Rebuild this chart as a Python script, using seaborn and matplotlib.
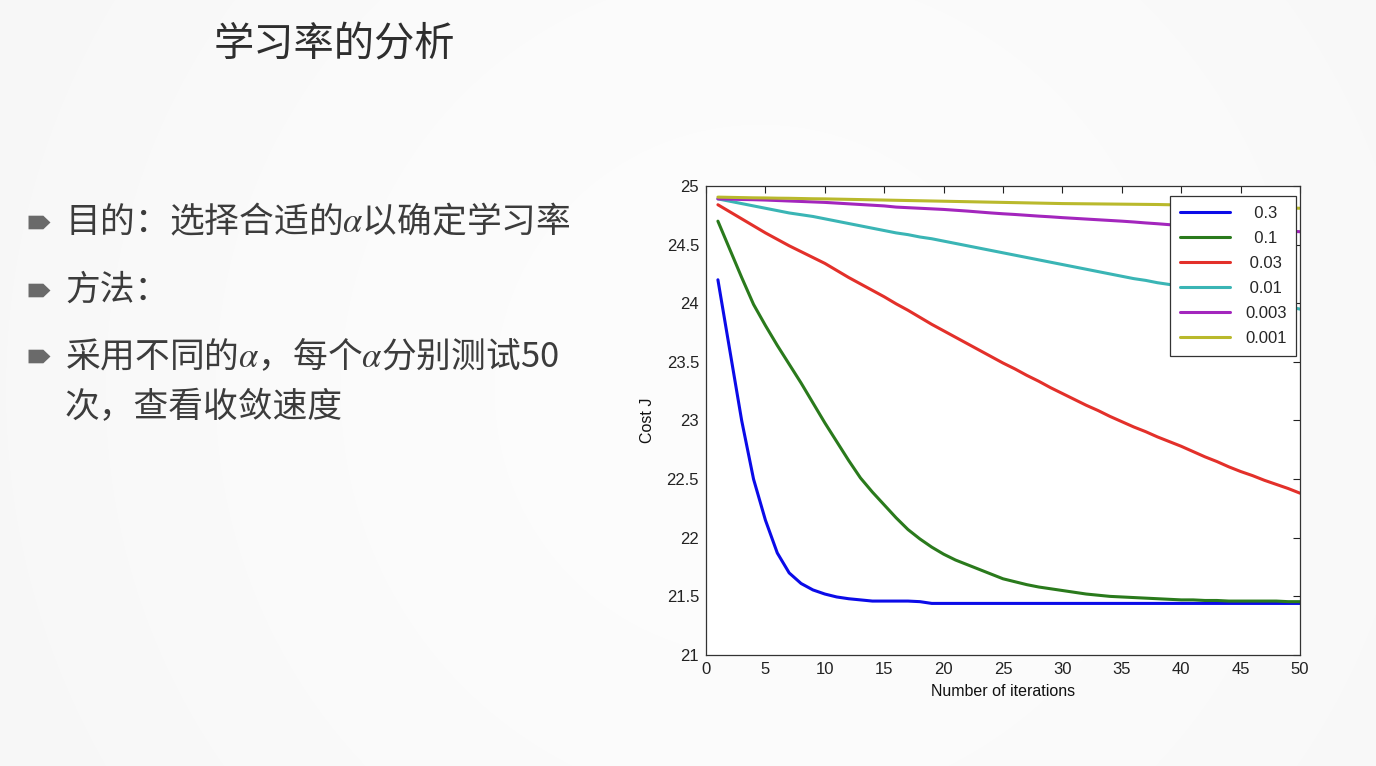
import numpy as np
import pandas as pd
import matplotlib
matplotlib.use("Agg")
import matplotlib.pyplot as plt
from matplotlib.path import Path
from matplotlib.ticker import FormatStrFormatter, MultipleLocator
import seaborn as sns

# ---- data ----
iterations = list(range(1, 51))
alphas = ["0.3", "0.1", "0.03", "0.01", "0.003", "0.001"]

cost_a03 = [24.20, 23.60, 23.00, 22.50, 22.15, 21.87, 21.70, 21.61, 21.555, 21.52,
            21.495, 21.48, 21.47, 21.46, 21.46, 21.46, 21.46, 21.455, 21.44, 21.44,
            21.44, 21.44, 21.44, 21.44, 21.44, 21.44, 21.44, 21.44, 21.44, 21.44,
            21.44, 21.44, 21.44, 21.44, 21.44, 21.44, 21.44, 21.44, 21.44, 21.44,
            21.44, 21.44, 21.44, 21.44, 21.44, 21.44, 21.44, 21.44, 21.44, 21.44]
cost_a01 = [24.70, 24.46, 24.22, 23.99, 23.81, 23.64, 23.48, 23.32, 23.15, 22.98,
            22.82, 22.66, 22.51, 22.39, 22.28, 22.17, 22.07, 21.99, 21.92, 21.86,
            21.81, 21.77, 21.73, 21.69, 21.65, 21.625, 21.60, 21.58, 21.565, 21.55,
            21.535, 21.52, 21.51, 21.50, 21.495, 21.49, 21.485, 21.48, 21.475, 21.47,
            21.47, 21.465, 21.465, 21.46, 21.46, 21.46, 21.46, 21.46, 21.455, 21.455]
cost_a003 = [24.84, 24.78, 24.72, 24.66, 24.60, 24.545, 24.49, 24.44, 24.39, 24.34,
             24.28, 24.22, 24.165, 24.11, 24.055, 23.995, 23.94, 23.88, 23.82, 23.765,
             23.71, 23.655, 23.60, 23.545, 23.49, 23.44, 23.385, 23.335, 23.28, 23.23,
             23.18, 23.13, 23.085, 23.035, 22.99, 22.945, 22.905, 22.86, 22.82, 22.78,
             22.735, 22.69, 22.65, 22.605, 22.565, 22.53, 22.49, 22.455, 22.42, 22.38]
cost_a001 = [24.89, 24.87, 24.85, 24.83, 24.81, 24.79, 24.77, 24.755, 24.74, 24.72,
             24.70, 24.68, 24.66, 24.64, 24.62, 24.60, 24.585, 24.565, 24.55, 24.53,
             24.51, 24.49, 24.47, 24.45, 24.43, 24.41, 24.39, 24.37, 24.35, 24.33,
             24.31, 24.29, 24.27, 24.25, 24.23, 24.21, 24.195, 24.175, 24.16, 24.14,
             24.12, 24.10, 24.085, 24.065, 24.045, 24.025, 24.005, 23.985, 23.97, 23.95]
cost_a0003 = [24.89, 24.888, 24.885, 24.883, 24.88, 24.876, 24.872, 24.868, 24.864, 24.86,
              24.854, 24.848, 24.842, 24.836, 24.83, 24.82, 24.815, 24.81, 24.805, 24.80,
              24.793, 24.786, 24.778, 24.77, 24.763, 24.757, 24.75, 24.743, 24.737, 24.73,
              24.724, 24.718, 24.712, 24.706, 24.70, 24.693, 24.685, 24.678, 24.67, 24.665,
              24.66, 24.655, 24.65, 24.645, 24.64, 24.634, 24.628, 24.622, 24.616, 24.61]
cost_a0001 = [24.905, 24.903, 24.901, 24.899, 24.898, 24.896, 24.895, 24.893, 24.891, 24.89,
              24.888, 24.886, 24.884, 24.882, 24.88, 24.878, 24.876, 24.874, 24.872, 24.87,
              24.868, 24.866, 24.864, 24.862, 24.86, 24.858, 24.856, 24.854, 24.852, 24.85,
              24.849, 24.848, 24.847, 24.846, 24.845, 24.844, 24.843, 24.842, 24.84, 24.838,
              24.836, 24.834, 24.832, 24.828, 24.825, 24.822, 24.819, 24.816, 24.813, 24.81]

line_colors = ["#0b0be8", "#2a7a1c", "#e3302a", "#3ab5b5", "#a326bd", "#b9b92c"]

title_text = "学习率的分析"
bullet_lines = ["目的：选择合适的$\\alpha$以确定学习率",
                "方法：",
                "采用不同的$\\alpha$，每个$\\alpha$分别测试50"]
wrap_line = "次，查看收敛速度"

df = pd.DataFrame({
    "iteration": iterations * 6,
    "cost": cost_a03 + cost_a01 + cost_a003 + cost_a001 + cost_a0003 + cost_a0001,
    "alpha": sum([[a] * len(iterations) for a in alphas], []),
})

sns.set_style("white")
plt.rcParams["font.family"] = ["Liberation Sans", "DejaVu Sans"]
plt.rcParams["mathtext.fontset"] = "stix"
cjk = ["Noto Sans CJK SC", "DejaVu Sans"]

fig = plt.figure(figsize=(13.76, 7.66), dpi=100)

# slide background
bg = fig.add_axes([0, 0, 1, 1])
yy, xx = np.mgrid[0:766, 0:1376]
rr = np.clip(np.hypot(xx - 760, yy - 390) / 820, 0, 1)
shade = 0.988 - 0.022 * rr ** 1.6
bg.imshow(shade, cmap="gray", vmin=0, vmax=1, extent=(0, 1376, 766, 0), aspect="auto")
bg.set_xlim(0, 1376)
bg.set_ylim(766, 0)
bg.axis("off")

bg.text(214, 45, title_text, fontsize=29, family=cjk, color="#2e2e2e", va="center", ha="left")

tag = Path([(-1, -0.62), (0.35, -0.62), (1, 0), (0.35, 0.62), (-1, 0.62), (-1, -0.62)],
           [Path.MOVETO, Path.LINETO, Path.LINETO, Path.LINETO, Path.LINETO, Path.CLOSEPOLY])
bg.scatter([39, 39, 39], [222, 290, 356], marker=tag, s=250, color="#6a6a6a", linewidths=0)
for yv, txt in zip([222, 290, 356], bullet_lines):
    bg.text(65, yv, txt, fontsize=25, family=cjk, color="#3c3c3c", va="center", ha="left")
bg.text(65, 408, wrap_line, fontsize=25, family=cjk, color="#3c3c3c", va="center", ha="left")

# chart
ax = fig.add_axes([0.5131, 0.1449, 0.4317, 0.6123])
ax.set_facecolor("white")
sns.lineplot(data=df, x="iteration", y="cost", hue="alpha", hue_order=alphas,
             palette=line_colors, linewidth=2.2, ax=ax, legend=True)
ax.set_xlim(0, 50)
ax.set_ylim(21, 25)
ax.xaxis.set_major_locator(MultipleLocator(5))
ax.yaxis.set_major_locator(MultipleLocator(0.5))
ax.yaxis.set_major_formatter(FormatStrFormatter("%g"))
ax.tick_params(direction="in", top=True, right=True, length=5, width=0.8,
               labelsize=12, pad=5, colors="#222222")
for sp in ax.spines.values():
    sp.set_visible(True)
    sp.set_color("#333333")
    sp.set_linewidth(0.9)
ax.set_xlabel("Number of iterations", fontsize=11.5, labelpad=5, color="#111111")
ax.set_ylabel("Cost J", fontsize=11.5, labelpad=8, color="#111111")

handles, labels = ax.get_legend_handles_labels()
pad_labels = ["  0.3", "  0.1", " 0.03", " 0.01", "0.003", "0.001"]
leg = ax.legend(handles, pad_labels, loc="upper right", bbox_to_anchor=(0.994, 0.979),
                borderaxespad=0, fontsize=12, handlelength=3.0, labelspacing=0.6,
                handletextpad=0.9, borderpad=0.6, fancybox=False, framealpha=1)
leg.get_frame().set_edgecolor("#333333")
leg.get_frame().set_linewidth(0.9)
for h in leg.get_lines():
    h.set_linewidth(2.2)

fig.savefig("out.png", dpi=100)
